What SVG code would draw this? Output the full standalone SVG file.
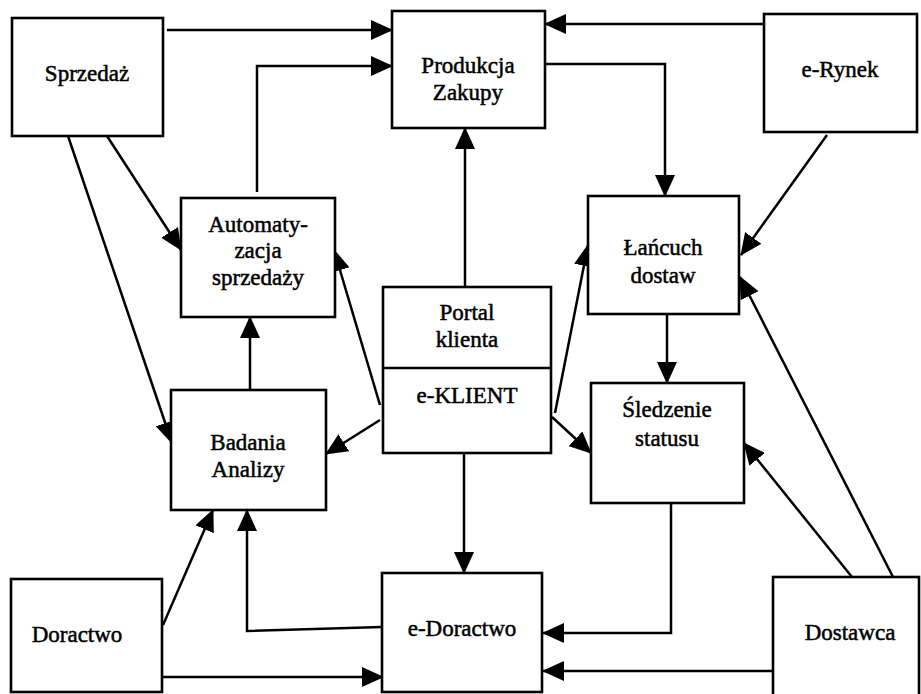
<svg xmlns="http://www.w3.org/2000/svg" width="921" height="694" viewBox="0 0 921 694">
<defs>
<marker id="ah" markerUnits="userSpaceOnUse" markerWidth="22" markerHeight="20" refX="21" refY="10" orient="auto">
<path d="M0,0 L22,10 L0,20 Z" fill="#000"/>
</marker>
<style>
.box{fill:#fff;stroke:#000;stroke-width:2.6}
.t{font-family:"Liberation Serif","Times New Roman",serif;font-size:23px;fill:#000;stroke:#000;stroke-width:0.5;text-anchor:middle}
.c{fill:none;stroke:#000;stroke-width:2.5;marker-end:url(#ah)}
</style>
</defs>
<rect width="921" height="694" fill="#fff"/>
<g id="connectors">
<path class="c" d="M167,30 L392,30"/>
<path class="c" d="M257,192 L257,66 L392,66"/>
<path class="c" d="M764,24 L545,24"/>
<path class="c" d="M545,64 L665,64 L665,196"/>
<path class="c" d="M827,135 L741,255"/>
<path class="c" d="M465,287 L465,128"/>
<path class="c" d="M107,136 L181,250"/>
<path class="c" d="M68,136 L172,443"/>
<path class="c" d="M250,390 L250,317"/>
<path class="c" d="M380,405 L334,250"/>
<path class="c" d="M380,420 L326,454"/>
<path class="c" d="M555,413 L588,245"/>
<path class="c" d="M552,417 L591,453"/>
<path class="c" d="M464,422 L464,573"/>
<path class="c" d="M667,314 L667,383"/>
<path class="c" d="M671,503 L671,633 L543,633"/>
<path class="c" d="M773,671 L543,671"/>
<path class="c" d="M162,677 L383,677"/>
<path class="c" d="M382,627 L247,631 L247,510"/>
<path class="c" d="M163,625 L213,510"/>
<path class="c" d="M852,577 L744,443"/>
<path class="c" d="M893,577 L740,277"/>
</g>
<g id="sprzedaz">
<rect class="box" x="12" y="18" width="151" height="118"/>
<text class="t" x="87" y="81">Sprzedaż</text>
</g>
<g id="produkcja">
<rect class="box" x="392" y="11" width="153" height="117"/>
<text class="t" x="468" y="73">Produkcja</text>
<text class="t" x="468" y="100">Zakupy</text>
</g>
<g id="erynek">
<rect class="box" x="764" y="14" width="153" height="118"/>
<text class="t" x="840" y="77">e-Rynek</text>
</g>
<g id="automatyzacja">
<rect class="box" x="181" y="198" width="154" height="119"/>
<text class="t" x="258" y="232">Automaty-</text>
<text class="t" x="258" y="258">zacja</text>
<text class="t" x="258" y="285">sprzedaży</text>
</g>
<g id="lancuch">
<rect class="box" x="588" y="196" width="151" height="118"/>
<text class="t" x="663" y="255">Łańcuch</text>
<text class="t" x="663" y="283">dostaw</text>
</g>
<g id="portal">
<rect class="box" x="383" y="287" width="168" height="166"/>
<line x1="383" y1="368" x2="551" y2="368" stroke="#000" stroke-width="2.6"/>
<text class="t" x="467" y="320">Portal</text>
<text class="t" x="467" y="347">klienta</text>
<text class="t" x="467" y="403">e-KLIENT</text>
</g>
<g id="badania">
<rect class="box" x="171" y="390" width="155" height="120"/>
<text class="t" x="248" y="450">Badania</text>
<text class="t" x="248" y="477">Analizy</text>
</g>
<g id="sledzenie">
<rect class="box" x="591" y="383" width="153" height="120"/>
<text class="t" x="667" y="417">Śledzenie</text>
<text class="t" x="667" y="446">statusu</text>
</g>
<g id="doractwo">
<rect class="box" x="11" y="579" width="151" height="113"/>
<text class="t" x="77" y="642">Doractwo</text>
</g>
<g id="edoractwo">
<rect class="box" x="382" y="573" width="160" height="119"/>
<text class="t" x="462" y="636">e-Doractwo</text>
</g>
<g id="dostawca">
<rect class="box" x="773" y="577" width="146" height="120"/>
<text class="t" x="850" y="640">Dostawca</text>
</g>
</svg>
